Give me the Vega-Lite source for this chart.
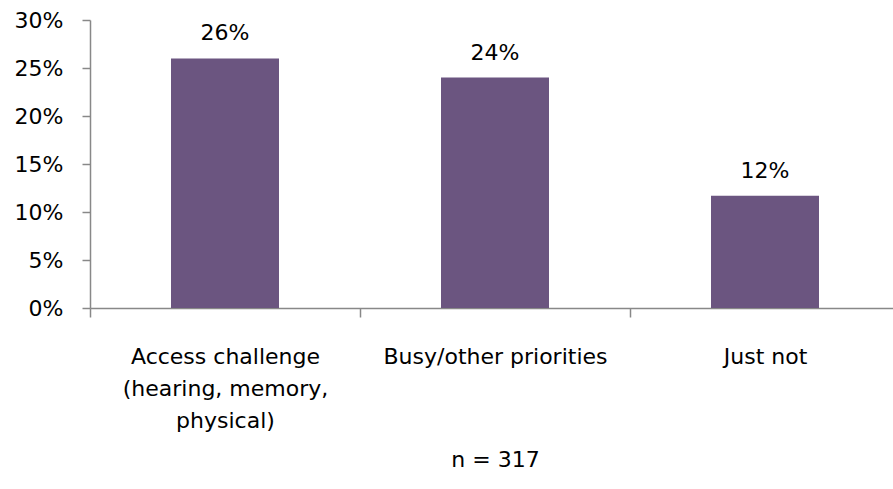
{
  "$schema": "https://vega.github.io/schema/vega-lite/v6.json",
  "autosize": "none",
  "padding": {"left": 90, "top": 20, "right": 0, "bottom": 181},
  "width": 810,
  "height": 288,
  "background": "white",
  "config": {
    "font": "DejaVu Sans",
    "view": {"stroke": null},
    "axis": {"labelFont": "DejaVu Sans", "titleFont": "DejaVu Sans"}
  },
  "data": {
    "values": [
      {"reason": "Access challenge (hearing, memory, physical)", "share": 0.26},
      {"reason": "Busy/other priorities", "share": 0.24},
      {"reason": "Just not", "share": 0.117}
    ]
  },
  "encoding": {
    "x": {
      "field": "reason",
      "type": "nominal",
      "sort": null,
      "scale": {"paddingInner": 0, "paddingOuter": 0},
      "axis": {
        "title": "n = 317",
        "titleFontSize": 22,
        "titleFontWeight": "normal",
        "titleColor": "#000000",
        "titlePadding": 18,
        "labelAngle": 0,
        "labelFontSize": 22,
        "labelColor": "#000000",
        "labelPadding": 29,
        "labelLineHeight": 32,
        "labelLimit": 300,
        "labelExpr": "datum.value == 'Access challenge (hearing, memory, physical)' ? ['Access challenge', '(hearing, memory,', 'physical)'] : datum.value",
        "tickBand": "extent",
        "tickSize": 9,
        "tickColor": "#888888",
        "domainColor": "#888888",
        "domainWidth": 1.5,
        "tickWidth": 1.5,
        "grid": false
      }
    },
    "y": {
      "field": "share",
      "type": "quantitative",
      "scale": {"domain": [0, 0.3], "nice": false},
      "axis": {
        "title": null,
        "format": ".0%",
        "values": [0, 0.05, 0.1, 0.15, 0.2, 0.25, 0.3],
        "labelFontSize": 22,
        "labelColor": "#000000",
        "labelPadding": 19,
        "tickSize": 8,
        "tickColor": "#888888",
        "domainColor": "#888888",
        "domainWidth": 1.5,
        "tickWidth": 1.5,
        "grid": false
      }
    }
  },
  "layer": [
    {
      "mark": {"type": "bar", "color": "#6B5580", "width": {"band": 0.4}}
    },
    {
      "mark": {"type": "text", "fontSize": 22, "color": "#000000", "baseline": "alphabetic", "dy": -18},
      "encoding": {"text": {"field": "share", "type": "quantitative", "format": ".0%"}}
    }
  ]
}
